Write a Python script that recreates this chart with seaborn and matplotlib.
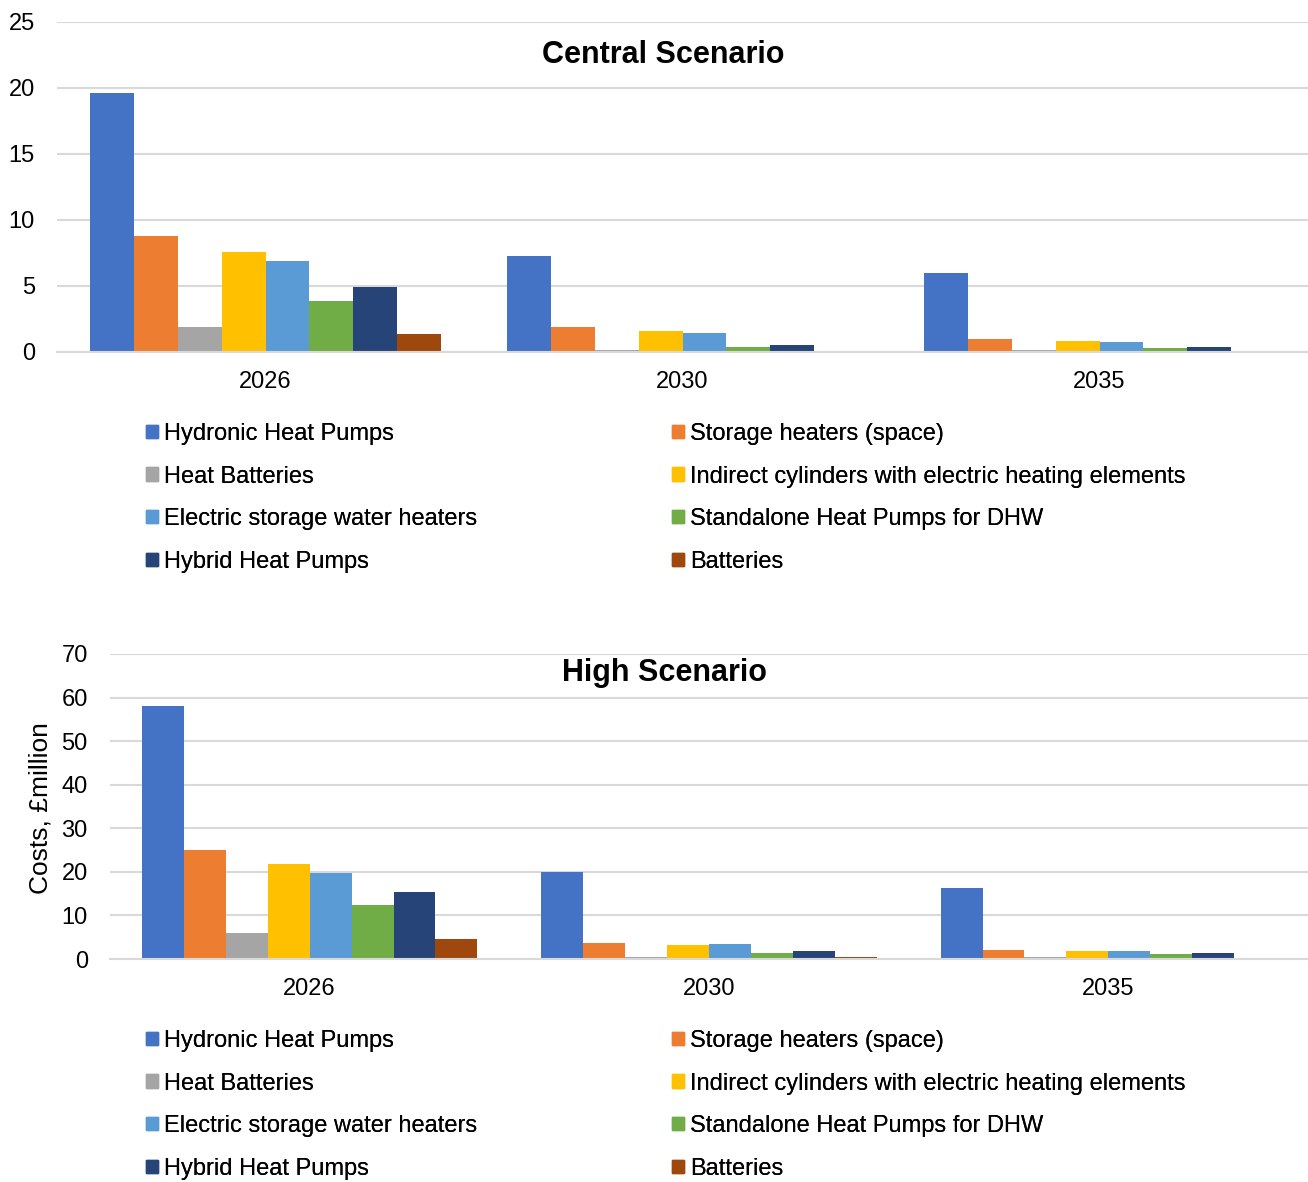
import numpy as np
import pandas as pd
import matplotlib
matplotlib.use("Agg")
import matplotlib.pyplot as plt
import seaborn as sns

sns.set_style("white")
plt.rcParams['font.family'] = ['Liberation Sans', 'DejaVu Sans']
plt.rcParams['text.color'] = 'black'
plt.rcParams['xtick.color'] = 'black'
plt.rcParams['ytick.color'] = 'black'

years = ['2026', '2030', '2035']
techs = ['Hydronic Heat Pumps', 'Storage heaters (space)', 'Heat Batteries',
         'Indirect cylinders with electric heating elements',
         'Electric storage water heaters', 'Standalone Heat Pumps for DHW',
         'Hybrid Heat Pumps', 'Batteries']
colors = ['#4472C4', '#ED7D31', '#A5A5A5', '#FFC000',
          '#5B9BD5', '#70AD47', '#264478', '#9E480E']

# costs, £million, one list per year in techs order
central_2026 = [19.6, 8.8, 1.9, 7.6, 6.9, 3.9, 4.9, 1.4]
central_2030 = [7.3, 1.9, 0.15, 1.6, 1.45, 0.4, 0.5, 0.1]
central_2035 = [6.0, 0.95, 0.13, 0.8, 0.73, 0.3, 0.4, 0.1]

high_2026 = [58.1, 25.1, 6.0, 21.9, 19.7, 12.3, 15.3, 4.5]
high_2030 = [19.9, 3.7, 0.5, 3.1, 3.5, 1.4, 1.8, 0.4]
high_2035 = [16.4, 2.1, 0.45, 1.8, 1.9, 1.1, 1.45, 0.3]


def to_long(vals_by_year):
    rows = []
    for yr, vals in zip(years, vals_by_year):
        for t, v in zip(techs, vals):
            rows.append({'year': yr, 'tech': t, 'cost': v})
    return pd.DataFrame(rows)


central = to_long([central_2026, central_2030, central_2035])
high = to_long([high_2026, high_2030, high_2035])

W, H = 1308, 1182
fig = plt.figure(figsize=(W / 100, H / 100), dpi=100)

grid_col = '#d9d9d9'
fs = 17


def draw_panel(ax, df, ymax, step, title, title_xy):
    sns.barplot(data=df, x='year', y='cost', hue='tech', hue_order=techs,
                palette=colors, width=0.84, gap=0, ax=ax, legend=False,
                saturation=1, edgecolor='none')
    ax.set_xlim(-0.5, 2.5)
    ax.set_ylim(0, ymax)
    ax.set_yticks(np.arange(0, ymax + 0.1, step))
    ax.yaxis.grid(True, color=grid_col, linewidth=1.5)
    ax.set_axisbelow(True)
    for s in ['top', 'right', 'left']:
        ax.spines[s].set_visible(False)
    ax.spines['bottom'].set_color(grid_col)
    ax.spines['bottom'].set_linewidth(1.5)
    ax.tick_params(axis='y', length=0, pad=16, labelsize=fs)
    ax.tick_params(axis='x', length=0, pad=14, labelsize=fs)
    ax.set_xlabel('')
    ax.set_ylabel('')
    fig.text(title_xy[0] / W, 1 - title_xy[1] / H, title, ha='center', va='center',
             fontsize=22, fontweight='bold')


ax1 = fig.add_axes([57 / W, 1 - 352 / H, (W - 57) / W, 330 / H])
draw_panel(ax1, central, 25, 5, 'Central Scenario', (663, 55))

ax2 = fig.add_axes([110 / W, 1 - 959 / H, (W - 110) / W, 305 / H])
draw_panel(ax2, high, 70, 10, 'High Scenario', (665, 673))

fig.text(41 / W, 1 - 808 / H, 'Costs, £million', rotation=90, ha='center',
         va='center', fontsize=19)

handles = [plt.Rectangle((0, 0), 1, 1, color=c) for c in colors]


def add_legends(top_px):
    for col, x_px in [(0, 146), (1, 672)]:
        idx = [col, col + 2, col + 4, col + 6]
        leg = fig.legend([handles[i] for i in idx], [techs[i] for i in idx],
                         loc='upper left', bbox_to_anchor=(x_px / W, 1 - top_px / H),
                         frameon=False, fontsize=fs, borderpad=0, borderaxespad=0,
                         handlelength=0.5, handleheight=0.5, handletextpad=0.25,
                         labelspacing=0.87)
        fig.add_artist(leg)


add_legends(423)
add_legends(1030)

fig.savefig('out.png', dpi=100)
